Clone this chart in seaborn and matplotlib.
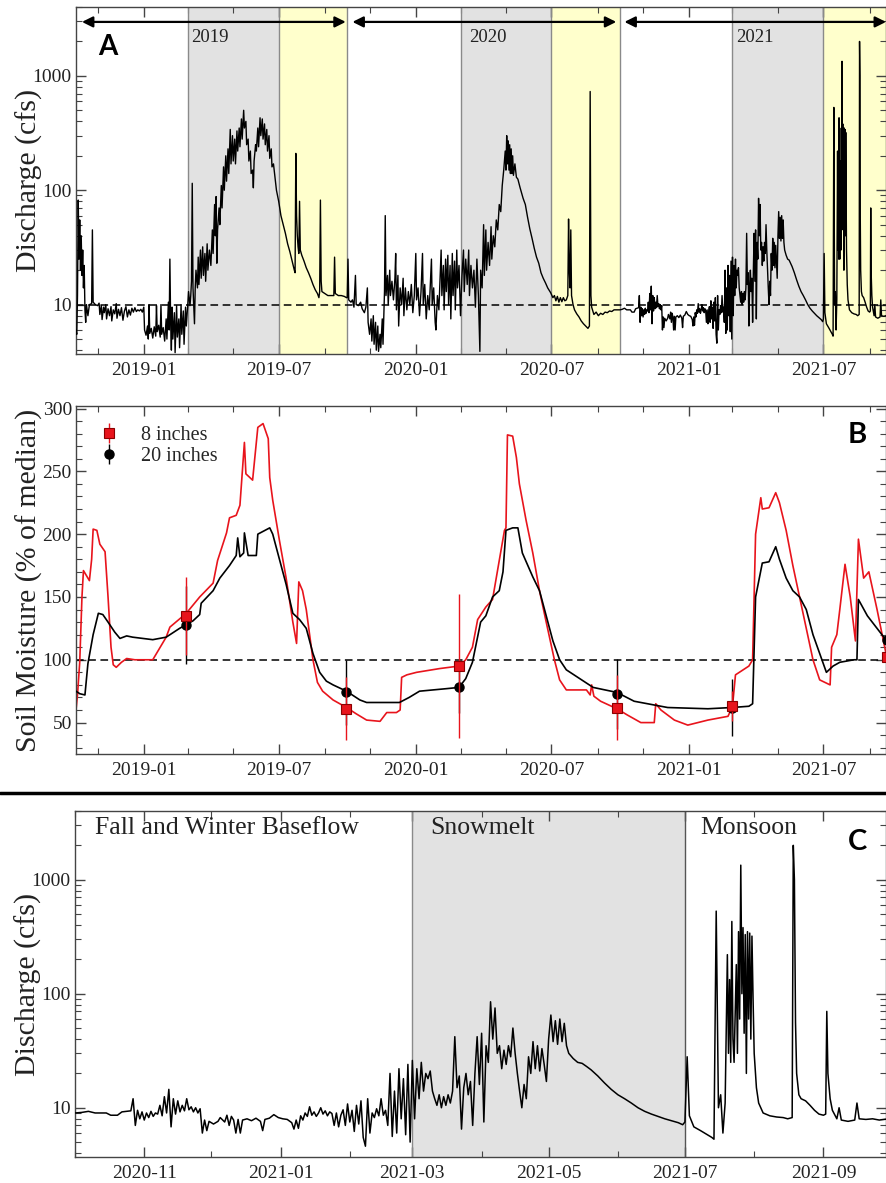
import pandas as pd
import matplotlib
matplotlib.use("Agg")
import matplotlib.pyplot as plt
import matplotlib.dates as mdates
import matplotlib.ticker as mticker
from matplotlib.lines import Line2D
import seaborn as sns

# ---------------------------------------------------------------- data
# Stream discharge (cfs), water year 2019
q_wy2019 = [
    ("2018-10-02", 6.0), ("2018-10-03", 5.5), ("2018-10-04", 12), ("2018-10-05", 82), ("2018-10-06", 25),
    ("2018-10-07", 55), ("2018-10-08", 20), ("2018-10-09", 40), ("2018-10-10", 18), ("2018-10-11", 30),
    ("2018-10-12", 14), ("2018-10-13", 22), ("2018-10-14", 9), ("2018-10-15", 7), ("2018-10-16", 10),
    ("2018-10-18", 8), ("2018-10-20", 10), ("2018-10-23", 10.2), ("2018-10-24", 45), ("2018-10-25", 10.5),
    ("2018-10-28", 10), ("2018-10-31", 9.8), ("2018-11-02", 10.3), ("2018-11-03", 8.2), ("2018-11-05", 9.8),
    ("2018-11-06", 7.4), ("2018-11-08", 9.5), ("2018-11-09", 8.5), ("2018-11-11", 10), ("2018-11-12", 7.5),
    ("2018-11-14", 9.2), ("2018-11-16", 8.0), ("2018-11-18", 9.6), ("2018-11-19", 7.2), ("2018-11-21", 9.0),
    ("2018-11-23", 8.3), ("2018-11-25", 10.2), ("2018-11-26", 7.6), ("2018-11-28", 9.1), ("2018-11-30", 8.0),
    ("2018-12-02", 9.4), ("2018-12-04", 7.3), ("2018-12-06", 8.8), ("2018-12-08", 9.6), ("2018-12-10", 7.8),
    ("2018-12-12", 9.0), ("2018-12-14", 8.1), ("2018-12-16", 9.3), ("2018-12-18", 8.6), ("2018-12-20", 9.4),
    ("2018-12-22", 8.7), ("2018-12-24", 9.0), ("2018-12-26", 8.8), ("2018-12-28", 9.1), ("2018-12-30", 8.6),
    ("2019-01-01", 9.5), ("2019-01-02", 6.0), ("2019-01-04", 5.4), ("2019-01-06", 6.5), ("2019-01-07", 5.0),
    ("2019-01-08", 10), ("2019-01-09", 5.6), ("2019-01-11", 6.2), ("2019-01-13", 5.1), ("2019-01-15", 6.4),
    ("2019-01-17", 5.3), ("2019-01-18", 9.8), ("2019-01-19", 5.8), ("2019-01-21", 6.6), ("2019-01-23", 5.2),
    ("2019-01-24", 10), ("2019-01-25", 5.5), ("2019-01-27", 6.3), ("2019-01-29", 4.8), ("2019-01-31", 7.5),
    ("2019-02-01", 5.0), ("2019-02-03", 10.5), ("2019-02-04", 6.0), ("2019-02-05", 25), ("2019-02-06", 7.0),
    ("2019-02-07", 4.0), ("2019-02-08", 9.5), ("2019-02-09", 5.0), ("2019-02-11", 8.5), ("2019-02-12", 3.8),
    ("2019-02-14", 9.8), ("2019-02-15", 5.2), ("2019-02-17", 7.5), ("2019-02-18", 4.2), ("2019-02-20", 10),
    ("2019-02-21", 5.5), ("2019-02-23", 8.8), ("2019-02-24", 4.5), ("2019-02-26", 9.5), ("2019-02-27", 6.5),
    ("2019-03-01", 10), ("2019-03-02", 13), ("2019-03-04", 9.8), ("2019-03-05", 12), ("2019-03-06", 16),
    ("2019-03-07", 115), ("2019-03-08", 14), ("2019-03-09", 10), ("2019-03-10", 6.8), ("2019-03-11", 14),
    ("2019-03-12", 20), ("2019-03-14", 14), ("2019-03-15", 26), ("2019-03-16", 15), ("2019-03-18", 30),
    ("2019-03-19", 17), ("2019-03-21", 32), ("2019-03-22", 18), ("2019-03-24", 28), ("2019-03-25", 16),
    ("2019-03-27", 34), ("2019-03-28", 20), ("2019-03-30", 30), ("2019-04-01", 22), ("2019-04-03", 45),
    ("2019-04-04", 28), ("2019-04-06", 75), ("2019-04-07", 40), ("2019-04-08", 88), ("2019-04-09", 23),
    ("2019-04-10", 45), ("2019-04-12", 70), ("2019-04-13", 50), ("2019-04-15", 110), ("2019-04-16", 70),
    ("2019-04-18", 160), ("2019-04-19", 100), ("2019-04-21", 200), ("2019-04-22", 120), ("2019-04-24", 230),
    ("2019-04-25", 140), ("2019-04-27", 340), ("2019-04-28", 170), ("2019-04-30", 300), ("2019-05-01", 180),
    ("2019-05-03", 280), ("2019-05-04", 170), ("2019-05-06", 330), ("2019-05-07", 220), ("2019-05-09", 350),
    ("2019-05-10", 240), ("2019-05-12", 420), ("2019-05-13", 280), ("2019-05-15", 500), ("2019-05-16", 350),
    ("2019-05-18", 400), ("2019-05-19", 250), ("2019-05-21", 280), ("2019-05-22", 180), ("2019-05-24", 220),
    ("2019-05-25", 140), ("2019-05-27", 150), ("2019-05-28", 105), ("2019-05-29", 180), ("2019-05-31", 250),
    ("2019-06-01", 220), ("2019-06-03", 350), ("2019-06-04", 240), ("2019-06-06", 430), ("2019-06-07", 300),
    ("2019-06-09", 420), ("2019-06-10", 280), ("2019-06-12", 380), ("2019-06-13", 250), ("2019-06-15", 340),
    ("2019-06-16", 220), ("2019-06-18", 300), ("2019-06-19", 190), ("2019-06-21", 230), ("2019-06-22", 160),
    ("2019-06-24", 170), ("2019-06-26", 130), ("2019-06-28", 100), ("2019-07-01", 80), ("2019-07-04", 60),
    ("2019-07-07", 50), ("2019-07-10", 42), ("2019-07-13", 34), ("2019-07-16", 29), ("2019-07-19", 24),
    ("2019-07-22", 20), ("2019-07-23", 19), ("2019-07-24", 210), ("2019-07-25", 60), ("2019-07-26", 40),
    ("2019-07-27", 32), ("2019-07-28", 28), ("2019-07-29", 80), ("2019-07-30", 30), ("2019-08-01", 27),
    ("2019-08-04", 24), ("2019-08-07", 21), ("2019-08-10", 19), ("2019-08-13", 17), ("2019-08-16", 15),
    ("2019-08-19", 13.5), ("2019-08-22", 12.5), ("2019-08-24", 11.5), ("2019-08-25", 13), ("2019-08-26", 82),
    ("2019-08-27", 16), ("2019-08-28", 13), ("2019-09-01", 12.5), ("2019-09-05", 12), ("2019-09-09", 12),
    ("2019-09-13", 12), ("2019-09-14", 26), ("2019-09-15", 12.5), ("2019-09-19", 12), ("2019-09-23", 12),
    ("2019-09-27", 11.8), ("2019-09-30", 11.5),
]

# Stream discharge (cfs), water year 2020
q_wy2020 = [
    ("2019-10-01", 11.5), ("2019-10-02", 25), ("2019-10-03", 11), ("2019-10-06", 10.5), ("2019-10-08", 11),
    ("2019-10-10", 9.5), ("2019-10-12", 18), ("2019-10-13", 10), ("2019-10-16", 9.8), ("2019-10-19", 10.5),
    ("2019-10-21", 9.2), ("2019-10-24", 8.5), ("2019-10-26", 9.5), ("2019-10-28", 14), ("2019-10-29", 7),
    ("2019-10-31", 5.5), ("2019-11-02", 7.5), ("2019-11-03", 4.8), ("2019-11-05", 8), ("2019-11-06", 4.5),
    ("2019-11-08", 7), ("2019-11-09", 4.0), ("2019-11-11", 6.5), ("2019-11-12", 3.9), ("2019-11-14", 5.5),
    ("2019-11-15", 4.2), ("2019-11-17", 7.5), ("2019-11-18", 4.5), ("2019-11-20", 13), ("2019-11-21", 60),
    ("2019-11-22", 12), ("2019-11-24", 18), ("2019-11-25", 10), ("2019-11-27", 20), ("2019-11-28", 12),
    ("2019-11-30", 16), ("2019-12-02", 11), ("2019-12-04", 17), ("2019-12-05", 28), ("2019-12-06", 9),
    ("2019-12-08", 18), ("2019-12-09", 6.5), ("2019-12-11", 14), ("2019-12-13", 10), ("2019-12-15", 17),
    ("2019-12-16", 8), ("2019-12-18", 14), ("2019-12-20", 9), ("2019-12-22", 13), ("2019-12-24", 10),
    ("2019-12-26", 15), ("2019-12-28", 8.5), ("2019-12-30", 12), ("2020-01-01", 28), ("2020-01-02", 11),
    ("2020-01-04", 14), ("2020-01-06", 8), ("2020-01-08", 13), ("2020-01-10", 28), ("2020-01-11", 10),
    ("2020-01-13", 15), ("2020-01-15", 7.5), ("2020-01-17", 12), ("2020-01-19", 9), ("2020-01-21", 18),
    ("2020-01-22", 25), ("2020-01-23", 10), ("2020-01-25", 14), ("2020-01-27", 7), ("2020-01-28", 6),
    ("2020-01-30", 12), ("2020-02-01", 9), ("2020-02-03", 20), ("2020-02-04", 30), ("2020-02-05", 12),
    ("2020-02-07", 22), ("2020-02-08", 9), ("2020-02-10", 25), ("2020-02-11", 13), ("2020-02-13", 27),
    ("2020-02-14", 10), ("2020-02-16", 22), ("2020-02-17", 7.5), ("2020-02-19", 28), ("2020-02-20", 12),
    ("2020-02-22", 24), ("2020-02-23", 9), ("2020-02-25", 30), ("2020-02-26", 14), ("2020-02-28", 22),
    ("2020-03-01", 8), ("2020-03-03", 18), ("2020-03-05", 30), ("2020-03-06", 13), ("2020-03-08", 25),
    ("2020-03-10", 15), ("2020-03-12", 30), ("2020-03-13", 12), ("2020-03-15", 22), ("2020-03-17", 14),
    ("2020-03-19", 20), ("2020-03-21", 9.5), ("2020-03-23", 25), ("2020-03-25", 12), ("2020-03-27", 3.9),
    ("2020-03-28", 20), ("2020-03-30", 14), ("2020-04-01", 50), ("2020-04-02", 18), ("2020-04-04", 45),
    ("2020-04-05", 20), ("2020-04-07", 35), ("2020-04-09", 22), ("2020-04-11", 48), ("2020-04-12", 25),
    ("2020-04-14", 40), ("2020-04-16", 32), ("2020-04-18", 55), ("2020-04-20", 45), ("2020-04-22", 75),
    ("2020-04-24", 65), ("2020-04-26", 110), ("2020-04-28", 150), ("2020-04-30", 220), ("2020-05-01", 150),
    ("2020-05-02", 300), ("2020-05-03", 170), ("2020-05-04", 270), ("2020-05-05", 150), ("2020-05-06", 250),
    ("2020-05-07", 140), ("2020-05-08", 230), ("2020-05-09", 140), ("2020-05-10", 200), ("2020-05-11", 135),
    ("2020-05-13", 170), ("2020-05-15", 130), ("2020-05-17", 125), ("2020-05-20", 105), ("2020-05-24", 85),
    ("2020-05-27", 75), ("2020-05-30", 58), ("2020-06-02", 46), ("2020-06-05", 38), ("2020-06-08", 31),
    ("2020-06-11", 26), ("2020-06-14", 23), ("2020-06-17", 19), ("2020-06-20", 17), ("2020-06-23", 15.5),
    ("2020-06-26", 14), ("2020-06-30", 12.7), ("2020-07-03", 11.5), ("2020-07-05", 12), ("2020-07-07", 10.8),
    ("2020-07-09", 11.8), ("2020-07-11", 10.5), ("2020-07-13", 11.5), ("2020-07-15", 10.6), ("2020-07-17", 11.5),
    ("2020-07-19", 10.8), ("2020-07-21", 11), ("2020-07-23", 12), ("2020-07-24", 56), ("2020-07-25", 20),
    ("2020-07-26", 14), ("2020-07-27", 45), ("2020-07-28", 12), ("2020-07-30", 10), ("2020-08-01", 9),
    ("2020-08-04", 8.3), ("2020-08-07", 7.8), ("2020-08-10", 7.2), ("2020-08-13", 6.8), ("2020-08-16", 6.5),
    ("2020-08-19", 6.2), ("2020-08-21", 6.5), ("2020-08-22", 730), ("2020-08-23", 12), ("2020-08-24", 9.5),
    ("2020-08-27", 8.2), ("2020-08-30", 8.6), ("2020-09-02", 8.0), ("2020-09-05", 8.4), ("2020-09-08", 8.2),
    ("2020-09-11", 8.6), ("2020-09-14", 8.5), ("2020-09-17", 8.8), ("2020-09-20", 8.7), ("2020-09-23", 9.0),
    ("2020-09-26", 9.0), ("2020-09-30", 9.0),
]

# Stream discharge (cfs), water year 2021
q_wy2021 = [
    ("2020-10-01", 9.0), ("2020-10-04", 9.1), ("2020-10-07", 9.3), ("2020-10-10", 9.0), ("2020-10-15", 9.0),
    ("2020-10-17", 8.6), ("2020-10-20", 8.6), ("2020-10-22", 9.2), ("2020-10-26", 9.4), ("2020-10-27", 12.0),
    ("2020-10-28", 7.0), ("2020-10-29", 9.5), ("2020-10-30", 8.0), ("2020-10-31", 9.2), ("2020-11-01", 7.8),
    ("2020-11-02", 9.0), ("2020-11-03", 8.2), ("2020-11-04", 9.3), ("2020-11-05", 8.4), ("2020-11-06", 9.0),
    ("2020-11-07", 8.8), ("2020-11-08", 10.5), ("2020-11-09", 8.5), ("2020-11-10", 12.5), ("2020-11-11", 9.0),
    ("2020-11-12", 14.5), ("2020-11-13", 6.8), ("2020-11-14", 12.0), ("2020-11-15", 8.8), ("2020-11-16", 11.5),
    ("2020-11-17", 9.2), ("2020-11-18", 10.5), ("2020-11-19", 9.4), ("2020-11-20", 12.0), ("2020-11-21", 9.6),
    ("2020-11-22", 10.2), ("2020-11-23", 9.2), ("2020-11-24", 10.0), ("2020-11-25", 9.0), ("2020-11-26", 9.8),
    ("2020-11-27", 6.0), ("2020-11-28", 7.8), ("2020-11-29", 6.3), ("2020-11-30", 7.6), ("2020-12-02", 7.2),
    ("2020-12-04", 7.6), ("2020-12-05", 8.2), ("2020-12-07", 7.5), ("2020-12-08", 8.6), ("2020-12-09", 7.0),
    ("2020-12-10", 8.4), ("2020-12-11", 7.8), ("2020-12-12", 6.0), ("2020-12-13", 7.9), ("2020-12-14", 6.0),
    ("2020-12-15", 7.8), ("2020-12-17", 8.0), ("2020-12-19", 7.7), ("2020-12-21", 8.1), ("2020-12-23", 7.6),
    ("2020-12-24", 6.3), ("2020-12-25", 7.9), ("2020-12-27", 8.1), ("2020-12-29", 8.7), ("2020-12-31", 8.2),
    ("2021-01-02", 8.0), ("2021-01-04", 7.9), ("2021-01-06", 7.4), ("2021-01-07", 6.5), ("2021-01-08", 7.8),
    ("2021-01-09", 6.6), ("2021-01-10", 8.5), ("2021-01-11", 7.8), ("2021-01-12", 9.0), ("2021-01-13", 8.4),
    ("2021-01-14", 10.2), ("2021-01-15", 8.6), ("2021-01-16", 9.2), ("2021-01-17", 8.4), ("2021-01-18", 9.0),
    ("2021-01-19", 10.0), ("2021-01-20", 8.8), ("2021-01-21", 9.4), ("2021-01-22", 8.5), ("2021-01-23", 9.2),
    ("2021-01-24", 8.9), ("2021-01-25", 7.0), ("2021-01-26", 9.0), ("2021-01-27", 6.8), ("2021-01-28", 8.6),
    ("2021-01-29", 9.6), ("2021-01-30", 7.0), ("2021-01-31", 10.8), ("2021-02-01", 7.5), ("2021-02-02", 9.5),
    ("2021-02-03", 6.2), ("2021-02-04", 10.5), ("2021-02-05", 7.2), ("2021-02-06", 11.5), ("2021-02-07", 5.5),
    ("2021-02-08", 4.6), ("2021-02-09", 12.0), ("2021-02-10", 6.0), ("2021-02-11", 9.0), ("2021-02-12", 8.2),
    ("2021-02-13", 9.8), ("2021-02-14", 8.5), ("2021-02-15", 12.0), ("2021-02-16", 8.6), ("2021-02-17", 9.5),
    ("2021-02-18", 7.0), ("2021-02-19", 20.0), ("2021-02-20", 5.6), ("2021-02-21", 14.0), ("2021-02-22", 6.0),
    ("2021-02-23", 22.0), ("2021-02-24", 8.0), ("2021-02-25", 18.0), ("2021-02-26", 5.8), ("2021-02-27", 24.0),
    ("2021-02-28", 5.0), ("2021-03-01", 26.0), ("2021-03-02", 8.0), ("2021-03-03", 22.0), ("2021-03-04", 12.0),
    ("2021-03-05", 25.0), ("2021-03-06", 14.0), ("2021-03-07", 20.0), ("2021-03-08", 18.0), ("2021-03-09", 21.0),
    ("2021-03-10", 14.0), ("2021-03-11", 12.0), ("2021-03-12", 10.5), ("2021-03-13", 13.0), ("2021-03-14", 10.0),
    ("2021-03-15", 12.5), ("2021-03-16", 10.5), ("2021-03-17", 13.0), ("2021-03-18", 11.0), ("2021-03-19", 14.0),
    ("2021-03-20", 42.0), ("2021-03-21", 15.0), ("2021-03-22", 19.0), ("2021-03-23", 6.5), ("2021-03-24", 15.0),
    ("2021-03-25", 20.0), ("2021-03-26", 13.0), ("2021-03-27", 17.0), ("2021-03-28", 7.0), ("2021-03-29", 20.0),
    ("2021-03-30", 42.0), ("2021-03-31", 16.0), ("2021-04-01", 45.0), ("2021-04-02", 7.5), ("2021-04-03", 35.0),
    ("2021-04-04", 25.0), ("2021-04-05", 85.0), ("2021-04-06", 40.0), ("2021-04-07", 75.0), ("2021-04-08", 30.0),
    ("2021-04-09", 35.0), ("2021-04-10", 22.0), ("2021-04-11", 32.0), ("2021-04-12", 24.0), ("2021-04-13", 35.0),
    ("2021-04-14", 28.0), ("2021-04-15", 50.0), ("2021-04-16", 30.0), ("2021-04-17", 20.0), ("2021-04-18", 14.0),
    ("2021-04-19", 10.0), ("2021-04-20", 16.0), ("2021-04-21", 12.0), ("2021-04-22", 28.0), ("2021-04-23", 20.0),
    ("2021-04-24", 38.0), ("2021-04-25", 22.0), ("2021-04-26", 35.0), ("2021-04-27", 21.0), ("2021-04-28", 33.0),
    ("2021-04-29", 24.0), ("2021-04-30", 17.0), ("2021-05-01", 40.0), ("2021-05-02", 65.0), ("2021-05-03", 38.0),
    ("2021-05-04", 58.0), ("2021-05-05", 36.0), ("2021-05-06", 60.0), ("2021-05-07", 38.0), ("2021-05-08", 55.0),
    ("2021-05-09", 35.0), ("2021-05-10", 30.0), ("2021-05-12", 27.0), ("2021-05-14", 25.0), ("2021-05-16", 24.5),
    ("2021-05-18", 23.0), ("2021-05-20", 21.5), ("2021-05-23", 19.0), ("2021-05-26", 16.5), ("2021-05-29", 14.5),
    ("2021-06-01", 13.0), ("2021-06-04", 12.0), ("2021-06-07", 11.0), ("2021-06-10", 10.0), ("2021-06-13", 9.3),
    ("2021-06-16", 8.8), ("2021-06-19", 8.4), ("2021-06-22", 8.0), ("2021-06-25", 7.7), ("2021-06-28", 7.4),
    ("2021-06-30", 7.1), ("2021-07-01", 7.5), ("2021-07-02", 28.0), ("2021-07-03", 8.5), ("2021-07-05", 6.8),
    ("2021-07-08", 6.3), ("2021-07-11", 5.8), ("2021-07-13", 5.5), ("2021-07-14", 5.3), ("2021-07-15", 530.0),
    ("2021-07-16", 10.0), ("2021-07-17", 13.0), ("2021-07-18", 6.0), ("2021-07-19", 11.0), ("2021-07-20", 220.0),
    ("2021-07-20 12:00", 30.0), ("2021-07-21", 133.0), ("2021-07-21 12:00", 25.0), ("2021-07-22", 430.0),
    ("2021-07-22 12:00", 40.0), ("2021-07-23", 25.0), ("2021-07-24", 180.0), ("2021-07-24 12:00", 30.0),
    ("2021-07-25", 350.0), ("2021-07-25 12:00", 60.0), ("2021-07-26", 1340.0), ("2021-07-26 12:00", 100.0),
    ("2021-07-27", 380.0), ("2021-07-27 12:00", 45.0), ("2021-07-28", 330.0), ("2021-07-28 12:00", 20.0),
    ("2021-07-29", 350.0), ("2021-07-29 12:00", 60.0), ("2021-07-30", 340.0), ("2021-07-30 12:00", 40.0),
    ("2021-07-31", 320.0), ("2021-07-31 12:00", 90.0), ("2021-08-01", 30.0), ("2021-08-02", 15.0),
    ("2021-08-03", 11.0), ("2021-08-05", 9.0), ("2021-08-08", 8.5), ("2021-08-11", 8.3), ("2021-08-14", 8.2),
    ("2021-08-16", 8.0), ("2021-08-18", 8.2), ("2021-08-18 12:00", 2000.0), ("2021-08-19", 1000.0),
    ("2021-08-19 12:00", 56.0), ("2021-08-20", 20.0), ("2021-08-21", 13.0), ("2021-08-22", 12.0),
    ("2021-08-24", 11.5), ("2021-08-26", 10.5), ("2021-08-28", 9.5), ("2021-08-30", 8.8), ("2021-09-01", 8.6),
    ("2021-09-02", 8.8), ("2021-09-02 12:00", 70.0), ("2021-09-03", 20.0), ("2021-09-04", 12.0),
    ("2021-09-05", 9.5), ("2021-09-07", 8.0), ("2021-09-08", 10.0), ("2021-09-09", 7.8), ("2021-09-12", 7.6),
    ("2021-09-15", 7.8), ("2021-09-16", 11.0), ("2021-09-17", 8.0), ("2021-09-20", 7.9), ("2021-09-23", 8.0),
    ("2021-09-26", 7.8), ("2021-09-30", 8.0),
]

# Soil moisture (% of median) at 8 inches
sm8_series = [
    ("2018-10-02", 60), ("2018-10-04", 72), ("2018-10-07", 98), ("2018-10-10", 150), ("2018-10-12", 171),
    ("2018-10-16", 167), ("2018-10-20", 163), ("2018-10-23", 180), ("2018-10-25", 204), ("2018-10-30", 203),
    ("2018-11-03", 192), ("2018-11-10", 186), ("2018-11-14", 150), ("2018-11-18", 110), ("2018-11-21", 96),
    ("2018-11-25", 94), ("2018-12-02", 98), ("2018-12-09", 101), ("2018-12-20", 100), ("2018-12-31", 100),
    ("2019-01-13", 100), ("2019-01-18", 105), ("2019-01-31", 118), ("2019-02-05", 126), ("2019-02-27", 137),
    ("2019-03-17", 150), ("2019-04-04", 161), ("2019-04-10", 179), ("2019-04-22", 201), ("2019-04-26", 213),
    ("2019-05-05", 215), ("2019-05-10", 223), ("2019-05-16", 273), ("2019-05-18", 248), ("2019-05-27", 243),
    ("2019-06-03", 285), ("2019-06-10", 288), ("2019-06-17", 276), ("2019-06-19", 245), ("2019-06-23", 227),
    ("2019-07-02", 195), ("2019-07-11", 165), ("2019-07-20", 130), ("2019-07-25", 113), ("2019-07-28", 162),
    ("2019-08-02", 155), ("2019-08-07", 140), ("2019-08-16", 100), ("2019-08-22", 82), ("2019-08-29", 75),
    ("2019-09-12", 68), ("2019-09-30", 62), ("2019-10-13", 57), ("2019-10-27", 52), ("2019-11-14", 51),
    ("2019-11-23", 58), ("2019-12-06", 58), ("2019-12-11", 60), ("2019-12-13", 86), ("2019-12-20", 88),
    ("2020-01-02", 90), ("2020-02-02", 93), ("2020-02-28", 95), ("2020-03-08", 100), ("2020-03-17", 110),
    ("2020-03-24", 132), ("2020-04-04", 142), ("2020-04-13", 148), ("2020-04-22", 179), ("2020-04-29", 203),
    ("2020-05-01", 205), ("2020-05-03", 279), ("2020-05-10", 278), ("2020-05-15", 261), ("2020-05-19", 240),
    ("2020-05-28", 211), ("2020-06-06", 185), ("2020-06-15", 155), ("2020-06-24", 130), ("2020-07-05", 100),
    ("2020-07-12", 84), ("2020-07-21", 76), ("2020-08-17", 76), ("2020-08-22", 72), ("2020-08-24", 80),
    ("2020-08-27", 71), ("2020-09-05", 67), ("2020-09-27", 61), ("2020-10-11", 56), ("2020-10-29", 50),
    ("2020-11-16", 50), ("2020-11-18", 65), ("2020-11-25", 60), ("2020-12-13", 52), ("2020-12-31", 48),
    ("2021-01-27", 52), ("2021-02-23", 55), ("2021-03-01", 63), ("2021-03-05", 88), ("2021-03-23", 95),
    ("2021-03-28", 100), ("2021-04-01", 200), ("2021-04-08", 229), ("2021-04-10", 220), ("2021-04-19", 221),
    ("2021-04-28", 233), ("2021-05-03", 225), ("2021-05-12", 203), ("2021-05-21", 175), ("2021-05-30", 150),
    ("2021-06-08", 125), ("2021-06-17", 100), ("2021-06-26", 84), ("2021-07-10", 80), ("2021-07-12", 110),
    ("2021-07-19", 120), ("2021-07-23", 140), ("2021-07-30", 176), ("2021-08-06", 150), ("2021-08-13", 115),
    ("2021-08-17", 196), ("2021-08-24", 165), ("2021-08-31", 170), ("2021-09-11", 140), ("2021-09-24", 102),
]

# Soil moisture (% of median) at 20 inches
sm20_series = [
    ("2018-10-02", 75), ("2018-10-07", 73), ("2018-10-14", 72), ("2018-10-18", 97), ("2018-10-25", 120),
    ("2018-11-01", 137), ("2018-11-07", 136), ("2018-11-14", 130), ("2018-11-23", 122), ("2018-11-30", 117),
    ("2018-12-09", 119), ("2018-12-17", 118), ("2019-01-13", 116), ("2019-01-31", 118), ("2019-02-18", 125),
    ("2019-02-27", 128), ("2019-03-08", 131), ("2019-03-17", 136), ("2019-03-19", 145), ("2019-04-04", 155),
    ("2019-04-13", 165), ("2019-04-26", 175), ("2019-05-05", 183), ("2019-05-07", 197), ("2019-05-10", 182),
    ("2019-05-15", 185), ("2019-05-16", 201), ("2019-05-21", 183), ("2019-06-01", 183), ("2019-06-03", 200),
    ("2019-06-19", 205), ("2019-06-23", 200), ("2019-07-02", 180), ("2019-07-11", 160), ("2019-07-20", 137),
    ("2019-07-29", 132), ("2019-08-07", 125), ("2019-08-16", 105), ("2019-08-25", 90), ("2019-09-03", 83),
    ("2019-09-12", 80), ("2019-09-30", 75), ("2019-10-18", 68), ("2019-10-27", 66), ("2019-12-10", 66),
    ("2019-12-23", 70), ("2020-01-06", 75), ("2020-02-11", 77), ("2020-02-28", 78), ("2020-03-08", 85),
    ("2020-03-17", 98), ("2020-03-28", 130), ("2020-04-04", 135), ("2020-04-13", 150), ("2020-04-22", 155),
    ("2020-04-27", 170), ("2020-05-01", 203), ("2020-05-10", 205), ("2020-05-17", 205), ("2020-05-23", 185),
    ("2020-06-06", 166), ("2020-06-15", 155), ("2020-06-24", 135), ("2020-07-03", 115), ("2020-07-12", 100),
    ("2020-07-21", 92), ("2020-08-08", 85), ("2020-08-26", 78), ("2020-09-27", 74), ("2020-10-20", 67),
    ("2020-11-16", 64), ("2020-12-04", 62), ("2021-01-27", 61), ("2021-02-28", 62), ("2021-03-23", 63),
    ("2021-03-28", 65), ("2021-04-01", 150), ("2021-04-10", 177), ("2021-04-19", 178), ("2021-04-28", 190),
    ("2021-05-03", 180), ("2021-05-12", 165), ("2021-05-21", 155), ("2021-05-30", 150), ("2021-06-08", 140),
    ("2021-06-17", 120), ("2021-06-26", 105), ("2021-07-05", 90), ("2021-07-14", 95), ("2021-07-23", 98),
    ("2021-08-11", 100), ("2021-08-15", 100), ("2021-08-17", 148), ("2021-08-29", 135), ("2021-09-11", 125),
    ("2021-09-24", 115),
]

# Survey points with uncertainty
survey_dates = ["2019-02-27", "2019-09-30", "2020-02-28", "2020-09-27", "2021-03-01", "2021-09-24"]
sm8_points = [135, 61, 95, 62, 63, 102]
sm8_err = [31, 25, 57, 26, 12, 20]
sm20_points = [128, 74, 78, 73, 62, 116]
sm20_err = [31, 26, 20, 28, 23, 20]

# Seasons
snowmelt_start = ["2019-03-01", "2020-03-01", "2021-03-01"]
monsoon_start = ["2019-07-01", "2020-07-01", "2021-07-01"]
water_year_end = ["2019-10-01", "2020-10-01", "2021-10-01"]
water_year_labels = ["2019", "2020", "2021"]
arrow_start = ["2018-10-10", "2019-10-08", "2020-10-07"]
arrow_end = ["2019-09-29", "2020-09-26", "2021-09-23"]
label_date = ["2019-03-06", "2020-03-12", "2021-03-06"]

season_names_c = ["Fall and Winter Baseflow", "Snowmelt", "Monsoon"]
season_label_dates_c = ["2020-10-10", "2021-03-09", "2021-07-08"]

# ---------------------------------------------------------------- style
sns.set_theme(style="ticks")
plt.rcParams["font.family"] = ["Liberation Serif", "DejaVu Serif"]
plt.rcParams.update({
    "axes.edgecolor": "#444444",
    "axes.linewidth": 1.0,
    "xtick.color": "#444444",
    "ytick.color": "#444444",
    "xtick.labelcolor": "#222222",
    "ytick.labelcolor": "#222222",
    "axes.labelcolor": "#222222",
})

GRAY = "#e2e2e2"
YELLOW = "#ffffcc"
EDGE = "#8a8a8a"


def frame(pairs, col):
    df = pd.DataFrame(pairs, columns=["date", col])
    df["date"] = pd.to_datetime(df["date"], format="ISO8601")
    return df


def ts(s):
    return pd.Timestamp(s)


q = pd.concat([frame(q_wy2019, "q"), frame(q_wy2020, "q"), frame(q_wy2021, "q")], ignore_index=True)
sm8 = frame(sm8_series, "sm")
sm20 = frame(sm20_series, "sm")

W, H = 887, 1183
fig = plt.figure(figsize=(W / 100, H / 100), dpi=100)


def rect(left, top, right, bottom):
    return [left / W, 1 - bottom / H, (right - left) / W, (bottom - top) / H]


axA = fig.add_axes(rect(76, 7, 886, 354))
axB = fig.add_axes(rect(76, 406, 886, 754))
axC = fig.add_axes(rect(75, 811, 886, 1157))


def style_ticks(ax):
    ax.tick_params(which="both", direction="in", top=True, right=True, labelsize=14)
    ax.tick_params(which="major", length=7, width=1.0)
    ax.tick_params(which="minor", length=4, width=0.8)
    ax.tick_params(axis="x", pad=6)
    ax.tick_params(axis="y", pad=3)


def log_axis(ax):
    ax.set_yscale("log")
    ax.set_ylim(3.7, 4000)
    ax.yaxis.set_major_locator(mticker.FixedLocator([10, 100, 1000]))
    ax.yaxis.set_major_formatter(mticker.FuncFormatter(lambda v, p: f"{v:g}"))
    ax.yaxis.set_minor_locator(mticker.LogLocator(base=10, subs=range(2, 10), numticks=20))
    ax.yaxis.set_minor_formatter(mticker.NullFormatter())


def long_xaxis(ax):
    ax.set_xlim(ts("2018-10-02"), ts("2021-09-23"))
    ax.xaxis.set_major_locator(mdates.MonthLocator(bymonth=[1, 7]))
    ax.xaxis.set_major_formatter(mdates.DateFormatter("%Y-%m"))
    ax.xaxis.set_minor_locator(mdates.MonthLocator(bymonth=[3, 5, 9, 11]))


# ---------------------------------------------------------------- panel A
for g0, m0, e0 in zip(snowmelt_start, monsoon_start, water_year_end):
    axA.axvspan(ts(g0), ts(m0), color=GRAY, zorder=0, lw=0)
    axA.axvspan(ts(m0), ts(e0), color=YELLOW, zorder=0, lw=0)
    for d in (g0, m0, e0):
        axA.axvline(ts(d), color=EDGE, lw=1.0, zorder=1)

sns.lineplot(data=q, x="date", y="q", ax=axA, color="black", lw=1.0,
             estimator=None, sort=False, legend=False, zorder=3)
axA.axhline(10, color="black", lw=1.1, ls=(0, (5, 3)), zorder=2)
log_axis(axA)
long_xaxis(axA)
style_ticks(axA)
axA.set_xlabel("")
axA.set_ylabel("Discharge (cfs)", fontsize=21.5)
axA.yaxis.set_label_coords(-0.041, 0.5)

trA = axA.get_xaxis_transform()
for a0, a1, lab, ld in zip(arrow_start, arrow_end, water_year_labels, label_date):
    axA.annotate("", xy=(mdates.date2num(ts(a1)), 0.957), xytext=(mdates.date2num(ts(a0)), 0.957),
                 xycoords=trA, textcoords=trA,
                 arrowprops=dict(arrowstyle="<|-|>", color="black", lw=1.6, mutation_scale=16,
                                 shrinkA=0, shrinkB=0), zorder=5)
    axA.text(mdates.date2num(ts(ld)), 0.912, lab, transform=trA, fontsize=13.5,
             ha="left", va="center", color="#222222", zorder=5)
axA.text(0.027, 0.885, "A", transform=axA.transAxes, fontsize=20, fontweight="bold",
         family="Lato", ha="left", va="center", color="black")

# ---------------------------------------------------------------- panel B
sns.lineplot(data=sm8, x="date", y="sm", ax=axB, color="#e8141c", lw=1.2,
             estimator=None, sort=False, legend=False, zorder=2)
sns.lineplot(data=sm20, x="date", y="sm", ax=axB, color="black", lw=1.2,
             estimator=None, sort=False, legend=False, zorder=3)
axB.axhline(100, color="black", lw=1.1, ls=(0, (5, 3)), zorder=1)
sd = pd.to_datetime(survey_dates)
h20 = axB.errorbar(sd, sm20_points, yerr=sm20_err, fmt="o", color="black", ms=6.5,
                   mec="black", elinewidth=1.0, capsize=0, zorder=5, label="20 inches", clip_on=True)
h8 = axB.errorbar(sd, sm8_points, yerr=sm8_err, fmt="s", color="#e8141c", ms=6.5,
                  mec="#8b0000", mew=0.8, ecolor="#e8141c", elinewidth=1.0, capsize=0, zorder=6,
                  label="8 inches", clip_on=True)
axB.set_ylim(25, 302)
axB.yaxis.set_major_locator(mticker.MultipleLocator(50))
axB.yaxis.set_minor_locator(mticker.MultipleLocator(10))
long_xaxis(axB)
style_ticks(axB)
axB.set_xlabel("")
axB.set_ylabel("Soil Moisture (% of median)", fontsize=21.5)
axB.yaxis.set_label_coords(-0.041, 0.5)
axB.legend(handles=[h8, h20], labels=["8 inches", "20 inches"], loc="upper left",
           bbox_to_anchor=(0.016, 0.965), frameon=False, fontsize=14.5, handlelength=1.2,
           handletextpad=1.0, labelspacing=0.1, borderaxespad=0)
axB.text(0.953, 0.917, "B", transform=axB.transAxes, fontsize=21, fontweight="bold",
         family="Lato", ha="left", va="center", color="black")

# ---------------------------------------------------------------- panel C
axC.axvspan(ts(snowmelt_start[2]), ts(monsoon_start[2]), color=GRAY, zorder=0, lw=0)
axC.axvline(ts(snowmelt_start[2]), color=EDGE, lw=1.0, zorder=1)
axC.axvline(ts(monsoon_start[2]), color="#555555", lw=1.0, zorder=1)
qc = q[q["date"] >= ts("2020-10-01")]
sns.lineplot(data=qc, x="date", y="q", ax=axC, color="black", lw=1.1,
             estimator=None, sort=False, legend=False, zorder=3)
log_axis(axC)
axC.set_xlim(ts("2020-10-01"), ts("2021-09-29"))
axC.xaxis.set_major_locator(mdates.MonthLocator(bymonth=[1, 3, 5, 7, 9, 11]))
axC.xaxis.set_major_formatter(mdates.DateFormatter("%Y-%m"))
axC.xaxis.set_minor_locator(mdates.MonthLocator(bymonth=[2, 4, 6, 8, 10, 12]))
style_ticks(axC)
axC.set_xlabel("")
axC.set_ylabel("Discharge (cfs)", fontsize=21.5)
axC.yaxis.set_label_coords(-0.041, 0.5)
trC = axC.get_xaxis_transform()
for name, d in zip(season_names_c, season_label_dates_c):
    axC.text(mdates.date2num(ts(d)), 0.951, name, transform=trC, fontsize=18.5,
             ha="left", va="center", color="#222222")
axC.text(0.953, 0.91, "C", transform=axC.transAxes, fontsize=21, fontweight="bold",
         family="Lato", ha="left", va="center", color="black")

# separator between panels B and C
fig.add_artist(Line2D([0, 1], [1 - 793 / H, 1 - 793 / H], transform=fig.transFigure,
                      color="black", lw=2.5))

fig.savefig("out.png", dpi=100)
